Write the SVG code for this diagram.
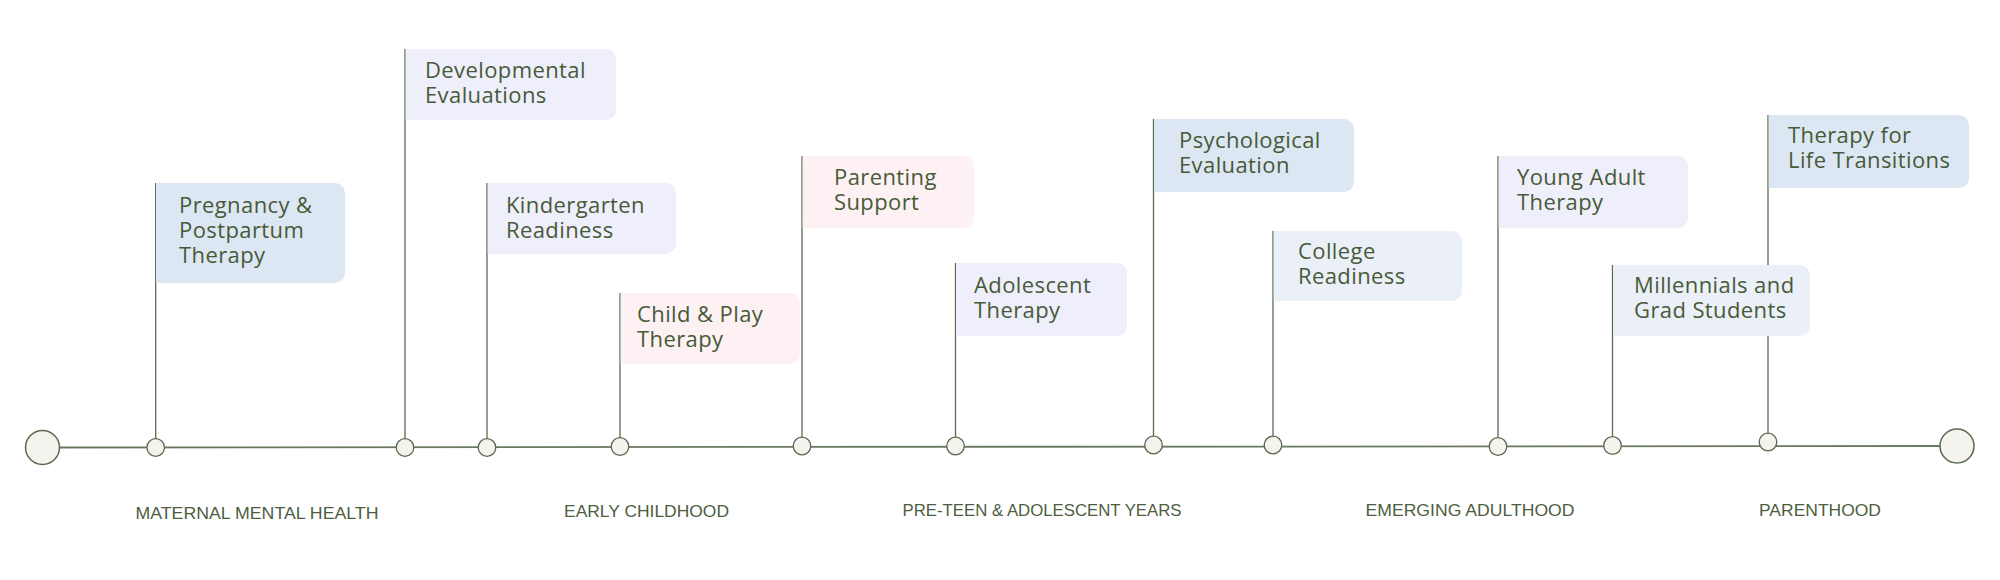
<svg xmlns="http://www.w3.org/2000/svg" width="2000" height="580" viewBox="0 0 2000 580">
<style>
.stem{stroke:#5a6a4e;stroke-width:1.3;fill:none}
.axis{stroke:#6a7860;stroke-width:1.8;fill:none}
.dot{fill:#f5f3ee;stroke:#5a6a4e;stroke-width:1.3}
.big{fill:#f5f3ee;stroke:#5a6a4e;stroke-width:1.5}
.lbl{font-family:"Open Sans","Liberation Sans",sans-serif;font-size:22px;fill:#475a38;letter-spacing:0.4px}
.phase{font-family:"Liberation Sans",Arial,sans-serif;font-size:17px;fill:#4d5e3f;text-anchor:middle}
.blue{fill:#dde7f3}
.lav{fill:#efeffc}
.pink{fill:#fdf1f4}
.pale{fill:#ebf0f8}
</style>
<rect width="2000" height="580" fill="#ffffff"/>
<g id="connectors">
<line class="axis" x1="42" y1="447.5" x2="1957" y2="446"/>
<line class="stem" x1="155.7" y1="183" x2="155.7" y2="439"/>
<line class="stem" x1="405" y1="49" x2="405" y2="439"/>
<line class="stem" x1="487" y1="183" x2="487" y2="439"/>
<line class="stem" x1="620" y1="293" x2="620" y2="438"/>
<line class="stem" x1="802" y1="156" x2="802" y2="437"/>
<line class="stem" x1="955.5" y1="263" x2="955.5" y2="437"/>
<line class="stem" x1="1153.5" y1="119" x2="1153.5" y2="436"/>
<line class="stem" x1="1273" y1="231" x2="1273" y2="436"/>
<line class="stem" x1="1498" y1="156" x2="1498" y2="437"/>
<line class="stem" x1="1612.5" y1="265" x2="1612.5" y2="436"/>
<line class="stem" x1="1768" y1="115" x2="1768" y2="433"/>
</g>
<g id="start"><circle class="big" cx="42.5" cy="447.5" r="17"/></g>
<g id="end"><circle class="big" cx="1957" cy="446" r="17"/></g>
<g id="dots">
<circle class="dot" cx="155.7" cy="447.5" r="8.8"/>
<circle class="dot" cx="405" cy="447.5" r="8.8"/>
<circle class="dot" cx="487" cy="447.5" r="8.8"/>
<circle class="dot" cx="620" cy="446.5" r="8.8"/>
<circle class="dot" cx="802" cy="446" r="8.8"/>
<circle class="dot" cx="955.5" cy="446" r="8.8"/>
<circle class="dot" cx="1153.5" cy="445" r="8.8"/>
<circle class="dot" cx="1273" cy="445" r="8.8"/>
<circle class="dot" cx="1498" cy="446.5" r="8.8"/>
<circle class="dot" cx="1612.5" cy="445.5" r="8.8"/>
<circle class="dot" cx="1768" cy="442" r="8.8"/>
</g>
<g id="n1"><path class="blue" d="M156,183 H335 A10,10 0 0 1 345,193 V273 A10,10 0 0 1 335,283 H156 Z"/>
<text class="lbl"><tspan x="179" y="212.5">Pregnancy &amp;</tspan><tspan x="179" dy="25">Postpartum</tspan><tspan x="179" dy="25">Therapy</tspan></text></g>
<g id="n2"><path class="lav" d="M405.7,49 H606 A10,10 0 0 1 616,59 V110 A10,10 0 0 1 606,120 H405.7 Z"/>
<text class="lbl"><tspan x="425" y="77.7">Developmental</tspan><tspan x="425" dy="25">Evaluations</tspan></text></g>
<g id="n3"><path class="lav" d="M487.7,183 H666 A10,10 0 0 1 676,193 V244 A10,10 0 0 1 666,254 H487.7 Z"/>
<text class="lbl"><tspan x="506" y="212.7">Kindergarten</tspan><tspan x="506" dy="25">Readiness</tspan></text></g>
<g id="n4"><path class="pink" d="M620.7,293 H790 A10,10 0 0 1 800,303 V354 A10,10 0 0 1 790,364 H620.7 Z"/>
<text class="lbl"><tspan x="637" y="321.7">Child &amp; Play</tspan><tspan x="637" dy="25">Therapy</tspan></text></g>
<g id="n5"><path class="pink" d="M802.7,156 H964 A10,10 0 0 1 974,166 V218 A10,10 0 0 1 964,228 H802.7 Z"/>
<text class="lbl"><tspan x="834" y="185">Parenting</tspan><tspan x="834" dy="25">Support</tspan></text></g>
<g id="n6"><path class="lav" d="M956.2,263 H1117 A10,10 0 0 1 1127,273 V326 A10,10 0 0 1 1117,336 H956.2 Z"/>
<text class="lbl"><tspan x="974" y="292.7">Adolescent</tspan><tspan x="974" dy="25">Therapy</tspan></text></g>
<g id="n7"><path class="blue" d="M1154.2,119 H1344 A10,10 0 0 1 1354,129 V182 A10,10 0 0 1 1344,192 H1154.2 Z"/>
<text class="lbl"><tspan x="1179" y="148.3">Psychological</tspan><tspan x="1179" dy="25">Evaluation</tspan></text></g>
<g id="n8"><path class="pale" d="M1273.7,231 H1452 A10,10 0 0 1 1462,241 V291 A10,10 0 0 1 1452,301 H1273.7 Z"/>
<text class="lbl"><tspan x="1298" y="259">College</tspan><tspan x="1298" dy="25">Readiness</tspan></text></g>
<g id="n9"><path class="lav" d="M1498.7,156 H1678 A10,10 0 0 1 1688,166 V218 A10,10 0 0 1 1678,228 H1498.7 Z"/>
<text class="lbl"><tspan x="1517" y="185">Young Adult</tspan><tspan x="1517" dy="25">Therapy</tspan></text></g>
<g id="n10"><path class="pale" d="M1613.2,265 H1800 A10,10 0 0 1 1810,275 V326 A10,10 0 0 1 1800,336 H1613.2 Z"/>
<text class="lbl"><tspan x="1634" y="293.3">Millennials and</tspan><tspan x="1634" dy="25">Grad Students</tspan></text></g>
<g id="n11"><path class="blue" d="M1768.7,115 H1959 A10,10 0 0 1 1969,125 V178 A10,10 0 0 1 1959,188 H1768.7 Z"/>
<text class="lbl"><tspan x="1788" y="143.3">Therapy for</tspan><tspan x="1788" dy="25">Life Transitions</tspan></text></g>
<g id="phases">
<text class="phase" x="257" y="519" textLength="243" lengthAdjust="spacingAndGlyphs">MATERNAL MENTAL HEALTH</text>
<text class="phase" x="646.5" y="517" textLength="165" lengthAdjust="spacingAndGlyphs">EARLY CHILDHOOD</text>
<text class="phase" x="1042" y="516" textLength="279" lengthAdjust="spacingAndGlyphs">PRE-TEEN &amp; ADOLESCENT YEARS</text>
<text class="phase" x="1470" y="516" textLength="209" lengthAdjust="spacingAndGlyphs">EMERGING ADULTHOOD</text>
<text class="phase" x="1820" y="516" textLength="122" lengthAdjust="spacingAndGlyphs">PARENTHOOD</text>
</g>
</svg>
